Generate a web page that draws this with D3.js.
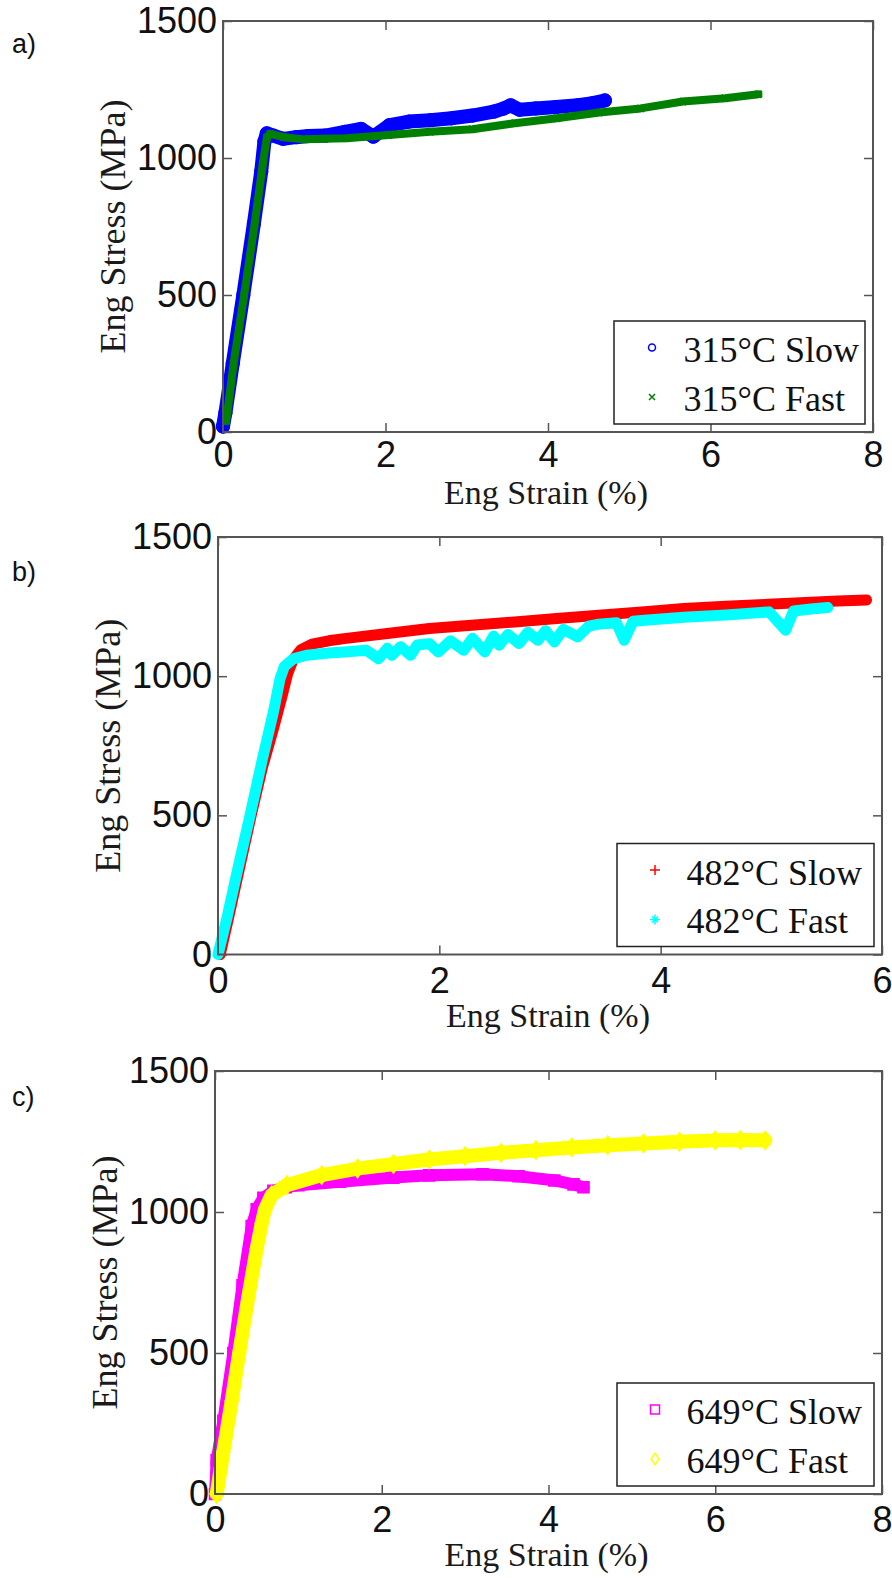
<!DOCTYPE html>
<html>
  <head>
    <meta charset="utf-8" />
    <title>Eng Stress vs Eng Strain</title>
    <script src="https://d3js.org/d3.v7.min.js"></script>
    <style>
      body { margin: 0; background: #fff; }
      .sans { font-family: "Liberation Sans", Arial, sans-serif; }
      .serif { font-family: "Liberation Serif", "Times New Roman", serif; }
    </style>
  </head>
  <body>
    <svg width="892" height="1578"></svg>
    <script>
      // tick labels and texts
      const stressTicks = [0, 500, 1000, 1500];
      const strainTicksA = [0, 2, 4, 6, 8];
      const strainTicksB = [0, 2, 4, 6];
      const strainTicksC = [0, 2, 4, 6, 8];
      const panelLetters = ["a)", "b)", "c)"];
      const xTitle = "Eng Strain (%)";
      const yTitle = "Eng Stress (MPa)";
      const legendA = ["315°C Slow", "315°C Fast"];
      const legendB = ["482°C Slow", "482°C Fast"];
      const legendC = ["649°C Slow", "649°C Fast"];

      // [strain %, stress MPa]
      const slow315 = [
        [0.0, 20], [0.03, 70], [0.12, 250], [0.25, 500], [0.38, 760], [0.47, 950],
        [0.51, 1060], [0.54, 1090], [0.62, 1082], [0.74, 1070], [0.9, 1076],
        [1.05, 1080], [1.26, 1082], [1.5, 1095], [1.7, 1106], [1.85, 1078],
        [2.05, 1120], [2.29, 1133], [2.55, 1138], [2.81, 1145], [3.07, 1155],
        [3.33, 1169], [3.45, 1180], [3.54, 1192], [3.65, 1176], [3.85, 1181],
        [4.1, 1186], [4.37, 1193], [4.55, 1200], [4.7, 1210]
      ];
      const fast315 = [
        [0.04, 40], [0.13, 250], [0.26, 500], [0.39, 760], [0.49, 980], [0.54, 1075],
        [0.58, 1088], [0.75, 1076], [1.0, 1068], [1.25, 1070], [1.52, 1072],
        [2.04, 1084], [2.55, 1096], [3.07, 1105], [3.59, 1127], [4.11, 1145],
        [4.63, 1166], [5.14, 1181], [5.66, 1206], [6.18, 1218], [6.59, 1233]
      ];
      const slow482 = [
        [0.02, 0], [0.1, 140], [0.2, 320], [0.3, 500], [0.4, 670], [0.5, 810],
        [0.58, 930], [0.63, 1010], [0.68, 1060], [0.75, 1095], [0.85, 1115],
        [1.0, 1127], [1.14, 1135], [1.53, 1153], [1.91, 1171], [2.29, 1183],
        [2.68, 1195], [3.06, 1207], [3.44, 1219], [3.83, 1231], [4.21, 1243],
        [4.59, 1251], [4.97, 1258], [5.36, 1266], [5.6, 1270], [5.86, 1274]
      ];
      const fast482 = [
        [0.0, 0], [0.08, 130], [0.18, 310], [0.29, 500], [0.4, 700], [0.5, 870],
        [0.56, 990], [0.6, 1035], [0.68, 1062], [0.8, 1075], [1.0, 1083],
        [1.14, 1087], [1.34, 1093], [1.45, 1063], [1.53, 1100], [1.57, 1075],
        [1.65, 1106], [1.74, 1075], [1.8, 1112], [1.91, 1117], [1.99, 1087],
        [2.1, 1127], [2.22, 1093], [2.3, 1136], [2.41, 1087], [2.49, 1144],
        [2.54, 1111], [2.62, 1150], [2.72, 1117], [2.8, 1158], [2.89, 1129],
        [2.96, 1163], [3.04, 1123], [3.12, 1168], [3.25, 1141], [3.35, 1180],
        [3.44, 1187], [3.6, 1192], [3.67, 1129], [3.75, 1197], [3.83, 1200],
        [4.21, 1212], [4.59, 1220], [4.98, 1231], [5.13, 1165], [5.2, 1234],
        [5.36, 1241], [5.51, 1247]
      ];
      const slow649 = [
        [0.0, 0], [0.02, 120], [0.1, 260], [0.22, 500], [0.33, 740], [0.44, 950],
        [0.5, 1010], [0.58, 1050], [0.7, 1075], [0.85, 1088], [1.0, 1095],
        [1.5, 1107], [2.14, 1122], [2.57, 1130], [3.21, 1134], [3.64, 1127],
        [4.07, 1112], [4.3, 1098], [4.42, 1088]
      ];
      const fast649 = [
        [0.02, 0], [0.1, 150], [0.2, 330], [0.29, 500], [0.4, 700], [0.5, 870],
        [0.56, 960], [0.6, 1010], [0.68, 1060], [0.86, 1095], [1.28, 1131],
        [1.71, 1154], [2.14, 1170], [2.57, 1186], [3.0, 1198], [3.43, 1210],
        [3.85, 1219], [4.28, 1229], [4.71, 1237], [5.14, 1243], [5.57, 1249],
        [6.0, 1254], [6.3, 1255], [6.6, 1254]
      ];

      const panels = [
        {
          letter: panelLetters[0], letterY: 53, left: 223, right: 873, top: 21, bottom: 432,
          xMax: 8, xTicks: strainTicksA, pad: 9, legendX: 614, names: legendA,
          series: [
            { data: slow315, color: "#0000ff", marker: "circle", width: 14 },
            { data: fast315, color: "#008000", marker: "x", width: 8 },
          ],
        },
        {
          letter: panelLetters[1], letterY: 581, left: 218, right: 882, top: 537, bottom: 954.5,
          xMax: 6, xTicks: strainTicksB, pad: 13, legendX: 617, names: legendB,
          series: [
            { data: slow482, color: "#ff0000", marker: "plus", width: 11 },
            { data: fast482, color: "#00ffff", marker: "star", width: 11 },
          ],
        },
        {
          letter: panelLetters[2], letterY: 1106, left: 215, right: 882, top: 1071, bottom: 1494,
          xMax: 8, xTicks: strainTicksC, pad: 12, legendX: 617, names: legendC,
          series: [
            { data: slow649, color: "#ff00ff", marker: "square", width: 12 },
            { data: fast649, color: "#ffff00", marker: "diamond", width: 14 },
          ],
        },
      ];

      // marker shapes centred on 0,0
      function markerPath(type, s) {
        switch (type) {
          case "circle":
            return d3.symbol(d3.symbolCircle, Math.PI * s * s)();
          case "square":
            return `M${-s},${-s}H${s}V${s}H${-s}Z`;
          case "diamond":
            return `M0,${-s * 1.4}L${s},0L0,${s * 1.4}L${-s},0Z`;
          case "plus":
            return `M${-s},0H${s}M0,${-s}V${s}`;
          case "x":
            return `M${-s},${-s}L${s},${s}M${-s},${s}L${s},${-s}`;
          default: {
            const t = s * 0.6;
            return `M${-s},0H${s}M0,${-s}V${s}M${-t},${-t}L${t},${t}M${-t},${t}L${t},${-t}`;
          }
        }
      }
      const filled = (type) => ["circle", "square", "diamond"].includes(type);

      const svg = d3.select("svg");
      const line = d3.line();
      const fmt = d3.format("d");

      panels.forEach((p) => {
        const g = svg.append("g");
        const x = d3.scaleLinear().domain([0, p.xMax]).range([p.left, p.right]);
        const y = d3.scaleLinear().domain([0, 1500]).range([p.bottom, p.top]);

        // axes, ticks pointing inward on all four sides
        const styleAxis = (sel) => {
          sel.select(".domain").remove();
          sel.selectAll(".tick line").attr("stroke", "#555").attr("stroke-width", 1.5);
          sel.selectAll(".tick text")
            .attr("class", "sans")
            .attr("font-size", 36)
            .attr("fill", "#111");
        };
        g.append("g")
          .attr("transform", `translate(0,${p.bottom})`)
          .call(d3.axisBottom(x).tickValues(p.xTicks).tickFormat(fmt).tickSizeInner(-9).tickSizeOuter(0).tickPadding(p.pad))
          .call(styleAxis);
        g.append("g")
          .attr("transform", `translate(0,${p.top})`)
          .call(d3.axisTop(x).tickValues(p.xTicks).tickSizeInner(-9).tickSizeOuter(0).tickFormat(""))
          .call(styleAxis);
        g.append("g")
          .attr("transform", `translate(${p.left},0)`)
          .call(d3.axisLeft(y).tickValues(stressTicks).tickFormat(fmt).tickSizeInner(-9).tickSizeOuter(0).tickPadding(6))
          .call(styleAxis);
        g.append("g")
          .attr("transform", `translate(${p.right},0)`)
          .call(d3.axisRight(y).tickValues(stressTicks).tickSizeInner(-9).tickSizeOuter(0).tickFormat(""))
          .call(styleAxis);

        // dense marker bands
        p.series.forEach((s) => {
          const pts = s.data.map((d) => [x(d[0]), y(d[1])]);
          g.append("path")
            .attr("d", line(pts))
            .attr("fill", "none")
            .attr("stroke", s.color)
            .attr("stroke-width", s.width)
            .attr("stroke-linejoin", "round")
            .attr("stroke-linecap", "round");
          g.append("g")
            .selectAll("path")
            .data(s.data)
            .join("path")
            .attr("transform", (d) => `translate(${x(d[0])},${y(d[1])})`)
            .attr("d", markerPath(s.marker, s.width * 0.42))
            .attr("fill", filled(s.marker) ? s.color : "none")
            .attr("stroke", s.color)
            .attr("stroke-width", 2.5);
        });

        // plot box
        g.append("rect")
          .attr("x", p.left)
          .attr("y", p.top)
          .attr("width", p.right - p.left)
          .attr("height", p.bottom - p.top)
          .attr("fill", "none")
          .attr("stroke", "#555")
          .attr("stroke-width", 2);

        // axis titles
        g.append("text")
          .attr("class", "serif")
          .attr("x", (p.left + p.right) / 2 - 2)
          .attr("y", p.bottom + 72)
          .attr("text-anchor", "middle")
          .attr("font-size", 34)
          .attr("fill", "#1a1a1a")
          .text(xTitle);
        g.append("text")
          .attr("class", "serif")
          .attr("transform", `translate(${p.left - 98},${(p.top + p.bottom) / 2}) rotate(-90)`)
          .attr("text-anchor", "middle")
          .attr("font-size", 36)
          .attr("fill", "#1a1a1a")
          .text(yTitle);

        // panel letter
        g.append("text")
          .attr("class", "sans")
          .attr("x", 12)
          .attr("y", p.letterY)
          .attr("font-size", 27)
          .attr("fill", "#111")
          .text(p.letter);

        // legend
        const ly = p.bottom - 8 - 103;
        const lw = p.right - 8 - p.legendX;
        const lg = g.append("g").attr("transform", `translate(${p.legendX},${ly})`);
        lg.append("rect")
          .attr("width", lw)
          .attr("height", 103)
          .attr("fill", "#fff")
          .attr("stroke", "#222")
          .attr("stroke-width", 1.5);
        const legendSize = { circle: 3.5, x: 3, plus: 5, star: 5, square: 4.5, diamond: 4 };
        p.series.forEach((s, i) => {
          lg.append("path")
            .attr("transform", `translate(38,${26.5 + i * 49.5})`)
            .attr("d", markerPath(s.marker, legendSize[s.marker]))
            .attr("fill", "none")
            .attr("stroke", s.color)
            .attr("stroke-width", 1.5);
          lg.append("text")
            .attr("class", "serif")
            .attr("x", 69.5)
            .attr("y", 41 + i * 48.5)
            .attr("font-size", 36)
            .attr("fill", "#111")
            .text(p.names[i]);
        });
      });
    </script>
  </body>
</html>
